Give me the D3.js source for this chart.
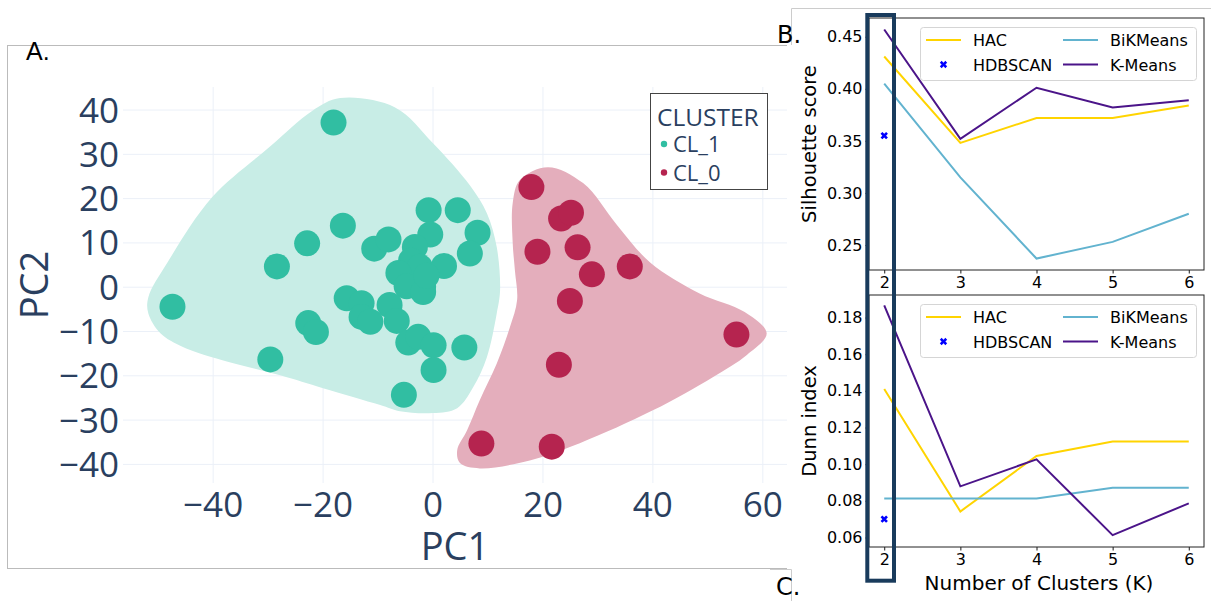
<!DOCTYPE html>
<html><head><meta charset="utf-8">
<script src="https://cdn.jsdelivr.net/npm/d3@7"></script>
<style>body{margin:0;background:#fff}svg{display:block}</style>
</head><body>
<svg id="c" width="1211" height="601"></svg>
<script>
// ---------- DATA ----------
const clusters = ["CL_1", "CL_0"];
const cl1Points = [[-18.1,37.2],[-16.4,13.9],[-22.9,9.9],[-28.4,4.7],[-47.4,-4.4],[-10.7,8.7],[-8.1,10.8],
 [-0.8,17.4],[4.5,17.4],[8.1,12.3],[6.7,7.6],[-0.5,11.9],[2.0,4.8],[-3.3,9.1],[-4.0,6.0],[-2.4,4.6],
 [-1.8,0.1],[-6.3,3.2],[-4.8,0.2],[-1.8,-1.1],[-1.2,2.6],[-15.7,-2.5],[-13.0,-3.6],[-7.9,-4.0],[-13.0,-6.7],
 [-11.4,-7.8],[-6.6,-7.6],[-4.5,-12.5],[-2.7,-11.2],[0.1,-13.1],[5.7,-13.6],[0.1,-18.7],[-5.3,-24.3],
 [-22.7,-8.1],[-21.3,-10.1],[-29.6,-16.3]];
const cl0Points = [[17.9,22.6],[23.3,15.5],[25.1,16.8],[19.0,8.0],[26.3,9.0],[28.9,2.9],[35.8,4.7],
 [24.9,-3.1],[55.2,-10.7],[22.9,-17.5],[8.8,-35.3],[21.6,-36.0]];
const cl1Hull = [[-16.9,42.7],[-6.9,40.6],[0,32.5],[6.7,23.0],[9.8,16.7],[11.6,9.0],[12.2,-0.7],[11.6,-5.9],
 [9.8,-15.8],[7.3,-22.6],[4.4,-27.3],[0,-28.4],[-6.0,-28.0],[-9.6,-26.6],[-20.0,-22.8],[-27.8,-19.9],
 [-40.2,-15.8],[-45.5,-13.5],[-49.6,-10.4],[-51.8,-5.9],[-51.8,-2.3],[-48.4,5.4],[-40.2,20.3],[-29.6,31.8],[-22.0,39.8]];
const cl0Hull = [[20.9,27.1],[27.3,23.5],[33.5,14.0],[39.5,5.6],[48.5,-1.4],[56.7,-5.6],[60.7,-10.4],[57.1,-15.3],
 [50.9,-20.3],[40.0,-27.8],[26.7,-35.2],[17.6,-39.1],[8.5,-40.9],[4.9,-39.7],[4.4,-36.8],[6.2,-32.3],
 [8.5,-25.5],[11.6,-17.2],[14.0,-9.0],[15.3,-2.9],[14.9,3.8],[14.5,9.9],[14.5,19.0],[15.8,24.2]];
const pcXTicks = [-40,-20,0,20,40,60];
const pcYTicks = [-40,-30,-20,-10,0,10,20,30,40];

const kValues = [2,3,4,5,6];
const silHAC = [0.431,0.348,0.372,0.372,0.384];
const silBiK = [0.405,0.315,0.237,0.253,0.280];
const silKM  = [0.457,0.352,0.401,0.382,0.389];
const silHDB = 0.355;
const dunnHAC = [0.141,0.0742,0.1045,0.1124,0.1124];
const dunnBiK = [0.0813,0.0813,0.0813,0.0871,0.0871];
const dunnKM  = [0.1867,0.0879,0.1026,0.0613,0.0786];
const dunnHDB = 0.070;
const silTicks = [0.25,0.30,0.35,0.40,0.45];
const dunnTicks = [0.06,0.08,0.10,0.12,0.14,0.16,0.18];

// ---------- DRAW ----------
const svg = d3.select("#c");
const PF = "'Open Sans', sans-serif";
const MF = "'DejaVu Sans', sans-serif";
const tcol = "#2a3f5f";
const col = {CL_1:"#31bea2", CL_0:"#b5244f"};
const hullCol = {CL_1:"#c8ede6", CL_0:"#e4aebc"};

// panel A frame
svg.append("rect").attr("x",7.5).attr("y",45.5).attr("width",790).attr("height",523)
  .attr("fill","#fff").attr("stroke","#bbb");

const x = d3.scaleLinear([-56.4,64.4],[123,787]);
const y = d3.scaleLinear([-44.2,45.2],[483,87]);

const gA = svg.append("g");
// grid
gA.append("g").selectAll("line").data(pcXTicks).join("line")
  .attr("x1",d=>x(d)).attr("x2",d=>x(d)).attr("y1",87).attr("y2",483)
  .attr("stroke","#ebf0f8").attr("stroke-width",1);
gA.append("g").selectAll("line").data(pcYTicks).join("line")
  .attr("y1",d=>y(d)).attr("y2",d=>y(d)).attr("x1",123).attr("x2",787)
  .attr("stroke","#ebf0f8").attr("stroke-width",1);

const hullLine = d3.line().x(d=>x(d[0])).y(d=>y(d[1])).curve(d3.curveCatmullRomClosed.alpha(0.5));
gA.append("path").attr("d",hullLine(cl1Hull)).attr("fill",hullCol.CL_1);
gA.append("path").attr("d",hullLine(cl0Hull)).attr("fill",hullCol.CL_0);

gA.append("g").selectAll("circle").data(cl1Points).join("circle")
  .attr("cx",d=>x(d[0])).attr("cy",d=>y(d[1])).attr("r",13).attr("fill",col.CL_1);
gA.append("g").selectAll("circle").data(cl0Points).join("circle")
  .attr("cx",d=>x(d[0])).attr("cy",d=>y(d[1])).attr("r",13).attr("fill",col.CL_0);

const fmt = d3.format("d");
gA.append("g").selectAll("text").data(pcXTicks).join("text")
  .attr("x",d=>x(d)).attr("y",517).attr("text-anchor","middle")
  .attr("font-family",PF).attr("font-size",35).attr("fill",tcol).text(d=>fmt(d));
gA.append("g").selectAll("text").data(pcYTicks).join("text")
  .attr("x",119).attr("y",d=>y(d)+12.5).attr("text-anchor","end")
  .attr("font-family",PF).attr("font-size",35).attr("fill",tcol).text(d=>fmt(d));
gA.append("text").attr("x",455).attr("y",560).attr("text-anchor","middle")
  .attr("font-family",PF).attr("font-size",38).attr("fill",tcol).text("PC1");
gA.append("text").attr("transform","translate(48,285) rotate(-90)").attr("text-anchor","middle")
  .attr("font-family",PF).attr("font-size",38).attr("fill",tcol).text("PC2");

// legend A
const lg = gA.append("g");
lg.append("rect").attr("x",650.5).attr("y",93.5).attr("width",117).attr("height",96)
  .attr("fill","#fff").attr("stroke","#444").attr("stroke-width",1);
lg.append("text").attr("x",657).attr("y",126).attr("font-family",PF).attr("font-size",24.5)
  .attr("fill",tcol).text("CLUSTER");
clusters.forEach((c,i)=>{
  lg.append("circle").attr("cx",664).attr("cy",144+i*28.5).attr("r",3.2).attr("fill",col[c]);
  lg.append("text").attr("x",673).attr("y",152+i*28.5).attr("font-family",PF).attr("font-size",22)
    .attr("fill",tcol).text(c);
});

// right panel background
svg.append("rect").attr("x",787).attr("y",8).attr("width",424).attr("height",593).attr("fill","#fff");
svg.append("path").attr("d","M791.5,45 V8.5 H1211").attr("fill","none").attr("stroke","#ccc");
svg.append("path").attr("d","M770,569.5 H791.5 V601").attr("fill","none").attr("stroke","#ccc");

const xK = d3.scaleLinear([1.8,6.2],[869,1204]);
const colors = {HAC:"#ffd400", BiKMeans:"#62b3cf", "K-Means":"#4b1489", HDBSCAN:"#0000ff"};

function panel(top, bottom, yDomain, ticks, series, hdb, ylabel, showXLabel){
  const yS = d3.scaleLinear(yDomain,[bottom,top]);
  const g = svg.append("g");
  const line = d3.line().x((d,i)=>xK(kValues[i])).y(d=>yS(d));
  series.forEach(s=>{
    g.append("path").attr("d",line(s.v)).attr("fill","none").attr("stroke",colors[s.n]).attr("stroke-width",2);
  });
  g.append("path").attr("d",d3.symbol(d3.symbolCross,34)())
    .attr("transform",`translate(${xK(kValues[0])},${yS(hdb)}) rotate(45)`).attr("fill",colors.HDBSCAN);
  const ax = g.append("g").attr("transform",`translate(0,${bottom})`)
    .call(d3.axisBottom(xK).tickValues(kValues).tickFormat(d3.format("d")).tickSize(3.5).tickPadding(3));
  const ay = g.append("g").attr("transform",`translate(869,0)`)
    .call(d3.axisLeft(yS).tickValues(ticks).tickFormat(d3.format(".2f")).tickSize(3.5).tickPadding(3));
  [ax,ay].forEach(a=>{
    a.select(".domain").remove();
    a.selectAll("text").attr("font-family",MF).attr("font-size",16).attr("fill","#000");
    a.selectAll("line").attr("stroke","#000").attr("stroke-width",0.9);
  });
  g.append("rect").attr("x",869).attr("y",top).attr("width",1204-869).attr("height",bottom-top)
    .attr("fill","none").attr("stroke","#222").attr("stroke-width",1);
  g.append("text").attr("transform",`translate(816,${(top+bottom)/2}) rotate(-90)`).attr("text-anchor","middle")
    .attr("font-family",MF).attr("font-size",19.5).attr("fill","#000").text(ylabel);
  if(showXLabel){
    g.append("text").attr("x",1039).attr("y",590).attr("text-anchor","middle")
      .attr("font-family",MF).attr("font-size",20).attr("fill","#000").text("Number of Clusters (K)");
  }
  // legend
  const lt = top + 9;
  const L = g.append("g");
  L.append("rect").attr("x",920.5).attr("y",lt+0.5).attr("width",276).attr("height",53).attr("rx",3)
    .attr("fill","#fff").attr("fill-opacity",0.8).attr("stroke","#d5d5d5");
  const items = [{n:"HAC",c:0,r:0},{n:"HDBSCAN",c:0,r:1},{n:"BiKMeans",c:1,r:0},{n:"K-Means",c:1,r:1}];
  items.forEach(it=>{
    const x0 = it.c===0 ? 926 : 1063;
    const yy = lt + 13 + it.r*24.5;
    if(it.n==="HDBSCAN"){
      L.append("path").attr("d",d3.symbol(d3.symbolCross,34)())
        .attr("transform",`translate(${x0+17.5},${yy}) rotate(45)`).attr("fill",colors.HDBSCAN);
    } else {
      L.append("line").attr("x1",x0).attr("x2",x0+35).attr("y1",yy).attr("y2",yy)
        .attr("stroke",colors[it.n]).attr("stroke-width",2);
    }
    L.append("text").attr("x",x0+47).attr("y",yy+6).attr("font-family",MF).attr("font-size",16)
      .attr("fill","#000").text(it.n);
  });
}

panel(18, 270, [0.226,0.468], silTicks,
  [{n:"HAC",v:silHAC},{n:"BiKMeans",v:silBiK},{n:"K-Means",v:silKM}], silHDB, "Silhouette score", false);
panel(295, 547, [0.0548,0.1923], dunnTicks,
  [{n:"HAC",v:dunnHAC},{n:"BiKMeans",v:dunnBiK},{n:"K-Means",v:dunnKM}], dunnHDB, "Dunn index", true);

// highlight rectangle around K=2
svg.append("rect").attr("x",867.3).attr("y",15).attr("width",894-867.3).attr("height",580.7-15)
  .attr("fill","none").attr("stroke","#193b5c").attr("stroke-width",4);

// panel labels
svg.append("text").attr("x",26).attr("y",60).attr("font-family","'Liberation Sans', Arial, sans-serif")
  .attr("font-size",25).attr("fill","#000").text("A.");
svg.append("text").attr("x",777).attr("y",43).attr("font-family",MF)
  .attr("font-size",24).attr("fill","#000").text("B.");
svg.append("text").attr("x",776).attr("y",595).attr("font-family",MF)
  .attr("font-size",24).attr("fill","#000").text("C.");
</script>
</body></html>
